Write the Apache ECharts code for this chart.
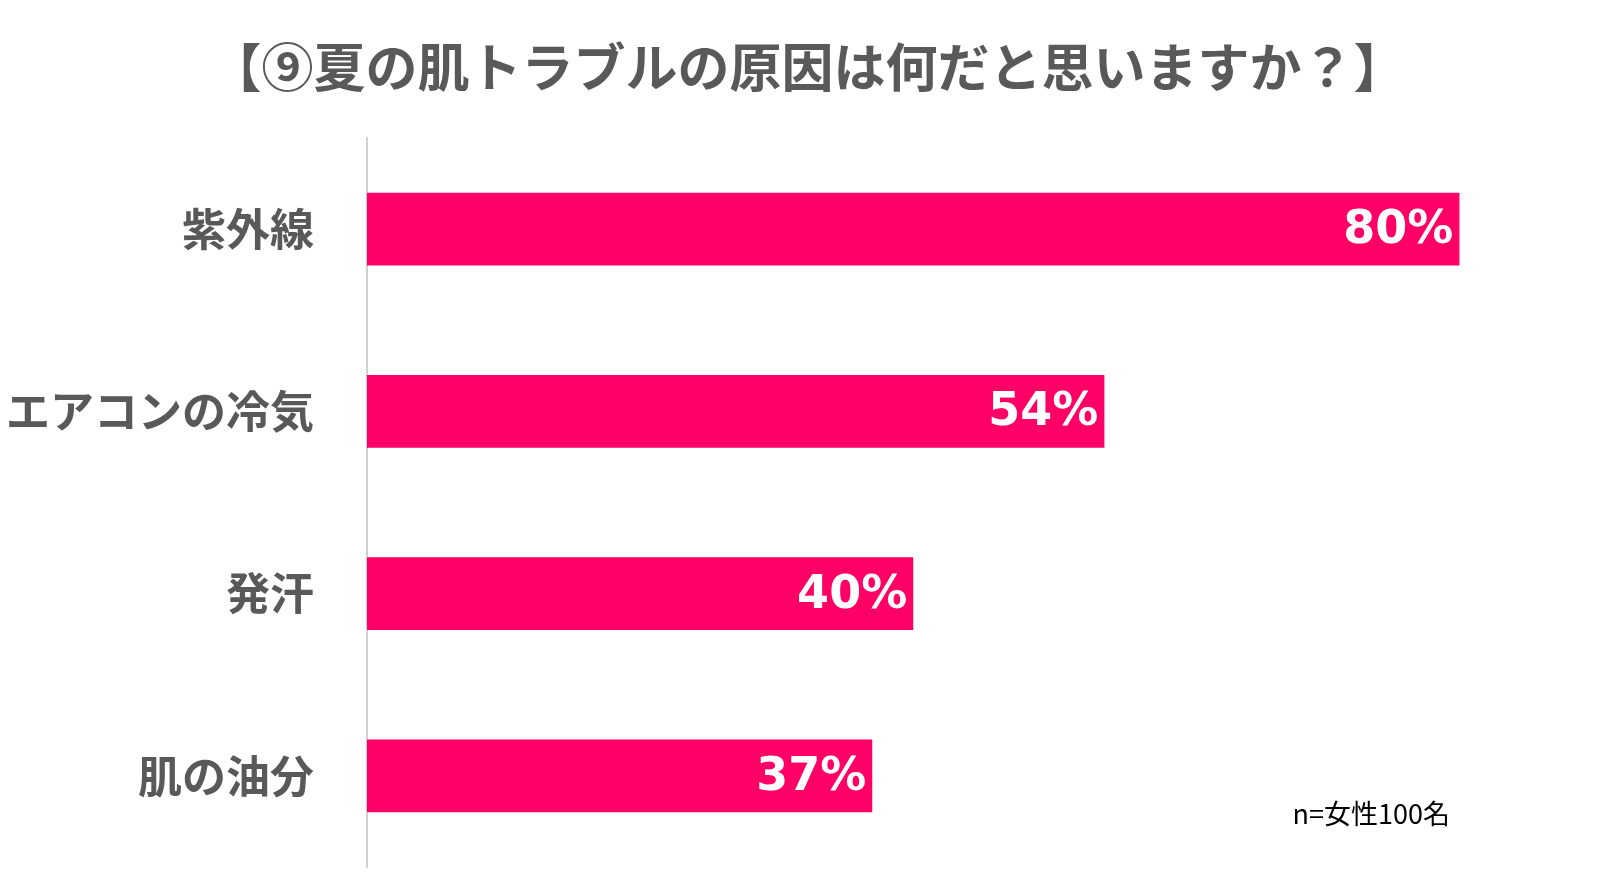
<!DOCTYPE html>
<html><head><meta charset="utf-8">
<script src="https://cdn.jsdelivr.net/npm/echarts@6/dist/echarts.min.js"></script>
<style>html,body{margin:0;padding:0;background:#fff}#c{width:1615px;height:889px}</style>
</head><body><div id="c"></div>
<script>
const categories = ['紫外線','エアコンの冷気','発汗','肌の油分'];
const values = [80,54,40,37];
const chart = echarts.init(document.getElementById('c'));
chart.setOption({
  backgroundColor:'#fff',
  title:{text:'【⑨夏の肌トラブルの原因は何だと思いますか？】',left:'center',top:36,
    textStyle:{fontSize:52,fontWeight:'bold',color:'#595959',fontFamily:'Noto Sans CJK JP'}},
  graphic:[{type:'text',right:165,top:800,style:{text:'n=女性100名',fontSize:27,fill:'#000',fontFamily:'Noto Sans CJK JP'}}],
  grid:{left:367,right:19,top:138,bottom:22},
  xAxis:{type:'value',min:0,max:90,show:false},
  yAxis:{type:'category',data:categories,inverse:true,
    axisLine:{lineStyle:{color:'#d0d0d0',width:2}},axisTick:{show:false},
    axisLabel:{fontSize:44,fontWeight:'bold',color:'#595959',margin:53,fontFamily:'Noto Sans CJK JP'}},
  series:[{type:'bar',data:values,barWidth:'40%',itemStyle:{color:'#FF0066'},
    label:{show:true,position:'insideRight',formatter:'{c}%',color:'#fff',fontSize:46,fontWeight:'bold',
      fontFamily:'DejaVu Sans',offset:[0,2],distance:6}}]
});
</script></body></html>
